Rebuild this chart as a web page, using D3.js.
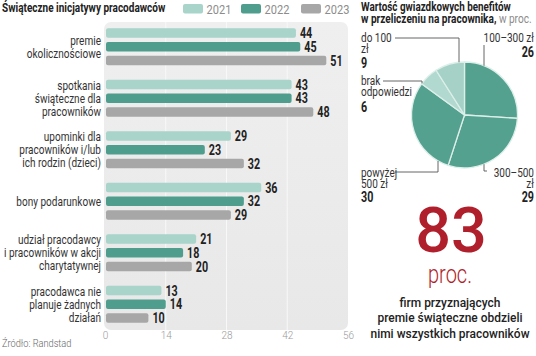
<!DOCTYPE html>
<html><head><meta charset="utf-8">
<script src="https://cdn.jsdelivr.net/npm/d3@7"></script>
<style>
body{margin:0;background:#fff;}
svg{display:block;}
text{font-family:"Roboto","Noto Sans",sans-serif;}
</style></head>
<body><svg id="c" width="536" height="356"></svg>
<script>
// ---- data ----
const categories = ["premie|okolicznościowe","spotkania|świąteczne dla|pracowników","upominki dla|pracowników i/lub|ich rodzin (dzieci)","bony podarunkowe","udział pracodawcy|i pracowników w akcji|charytatywnej","pracodawca nie|planuje żadnych|działań"];
const years = ["2021","2022","2023"];
const values2021 = [44,43,29,36,21,13];
const values2022 = [45,43,23,32,18,14];
const values2023 = [51,48,32,29,20,10];
const xTicks = [0,14,28,42,56];
const pieLabels = ["100–300 zł","300–500 zł","powyżej 500 zł","brak odpowiedzi","do 100 zł"];
const pieValues = [26,29,30,6,9];
const bigNumber = "83";

const colors = {"2021":"#a8d4ca","2022":"#4f9e8d","2023":"#a7a7a7"};
const pieColors = ["#55a190","#55a190","#55a190","#b2d9d0","#a6d1c7"];

const svg = d3.select("#c");
const series = {"2021":values2021,"2022":values2022,"2023":values2023};

function squeeze(sel, f){
  sel.each(function(){
    const L = this.getComputedTextLength();
    d3.select(this).attr("textLength", L*f).attr("lengthAdjust","spacingAndGlyphs");
  });
  return sel;
}

// ---- bar chart ----
const x = d3.scaleLinear().domain([0,56]).range([105,348]);
const y0 = d3.scaleBand().domain(categories).range([21,330]);
const y1 = d3.scaleBand().domain(years).range([0,y0.bandwidth()]).paddingInner(0.3).paddingOuter(0.53);

const grad = svg.append("defs").append("linearGradient").attr("id","bg").attr("x1",0).attr("y1",0).attr("x2",0).attr("y2",1);
grad.append("stop").attr("offset","0%").attr("stop-color","#efefef");
grad.append("stop").attr("offset","100%").attr("stop-color","#e8e8e8");
svg.append("rect").attr("x",104).attr("y",22).attr("width",244).attr("height",308).attr("rx",7).attr("fill","url(#bg)");
svg.append("g").selectAll("line").data(xTicks.slice(1,-1)).join("line")
  .attr("x1",d=>x(d)).attr("x2",d=>x(d)).attr("y1",22).attr("y2",330)
  .attr("stroke","#f8f8f8").attr("stroke-width",1);

const rows = [];
categories.forEach((c,i)=>years.forEach(yr=>rows.push({c,yr,v:series[yr][i]})));
svg.append("g").selectAll("rect").data(rows).join("rect")
  .attr("x",x(0)+1).attr("y",d=>y0(d.c)+y1(d.yr)).attr("width",d=>x(d.v)-x(0)-1)
  .attr("height",y1.bandwidth()).attr("rx",2).attr("fill",d=>colors[d.yr]);
squeeze(svg.append("g").selectAll("text").data(rows).join("text")
  .attr("x",d=>x(d.v)+4).attr("y",d=>y0(d.c)+y1(d.yr)+y1.bandwidth()/2).attr("dy","0.36em")
  .attr("font-size",14.5).attr("font-weight","bold").attr("fill","#222").text(d=>d.v), 0.74);

// category labels
const catLines = [];
categories.forEach(c=>{
  const lines = c.split("|");
  const cy = y0(c)+y0.bandwidth()/2;
  lines.forEach((l,j)=>catLines.push({t:l, y:cy+(j-(lines.length-1)/2)*13}));
});
squeeze(svg.append("g").selectAll("text").data(catLines).join("text")
  .attr("x",101).attr("y",d=>d.y).attr("dy","0.35em").attr("text-anchor","end")
  .attr("font-size",12.7).attr("fill","#333").text(d=>d.t), 0.79);

// x axis
const xAxis = d3.axisBottom(x).tickValues(xTicks).tickSize(0).tickPadding(0);
const ax = svg.append("g").attr("transform","translate(0,331)").call(xAxis);
ax.select(".domain").remove();
ax.selectAll("text").attr("font-size",10).attr("fill","#9a9a9a").attr("font-weight",300).attr("dy","0.75em")
  .style("font-family","Roboto,sans-serif");

squeeze(svg.append("text").attr("x",2).attr("y",347).attr("font-size",10.5).attr("font-weight",300).attr("fill","#666").text("Źródło: Randstad"),0.88);

// title + legend
squeeze(svg.append("text").attr("x",2).attr("y",12).attr("font-size",12.5).attr("font-weight","bold").attr("fill","#222").text("Świąteczne inicjatywy pracodawców"),0.8);
const legX = d3.scaleOrdinal().domain(years).range([183,241,301]);
const lg = svg.append("g").selectAll("g").data(years).join("g").attr("transform",d=>`translate(${legX(d)},4)`);
lg.append("rect").attr("width",20).attr("height",9.5).attr("rx",2).attr("fill",d=>colors[d]);
squeeze(lg.append("text").attr("x",23.5).attr("y",9.5).attr("font-size",13).attr("fill","#8c8c8c").text(d=>d),0.85);

// ---- pie ----
const cx = 464.5, cyP = 115, r = 53;
const pie = d3.pie().sort(null).value(d=>d)(pieValues);
const arc = d3.arc().innerRadius(0).outerRadius(r);
svg.append("g").attr("transform",`translate(${cx},${cyP})`).selectAll("path").data(pie).join("path")
  .attr("d",arc).attr("fill",(d,i)=>pieColors[i]).attr("stroke","#dcefe9").attr("stroke-width",1.3);

squeeze(svg.append("text").attr("x",361).attr("y",11).attr("font-size",12).attr("font-weight","bold").attr("fill","#222").text("Wartość gwiazdkowych benefitów"),0.82);
const t2 = svg.append("text").attr("x",361).attr("y",23).attr("font-size",12).attr("fill","#222");
t2.append("tspan").attr("font-weight","bold").text("w przeliczeniu na pracownika,");
t2.append("tspan").attr("fill","#8c8c8c").text(" w proc.");
squeeze(t2,0.84);

function edgeY(px, side){ const dx = px-cx; return cyP + side*Math.sqrt(r*r-dx*dx); }
const lineG = svg.append("g").attr("fill","none").attr("stroke","#555").attr("stroke-width",0.9);

const specs = [
  {i:4, anchor:"start", x:361, lines:["do 100","zł"], ly:[38,49], vy:63, path:[[395,38],[459,38],[459,edgeY(459,-1)]]},
  {i:0, anchor:"end", x:534, lines:["100–300 zł"], ly:[38], vy:52, path:[[484,45],[484,edgeY(484,-1)]]},
  {i:3, anchor:"start", x:361, lines:["brak","odpowiedzi"], ly:[81,92], vy:107, path:[[383,81],[422,81],[422,edgeY(422,-1)]]},
  {i:2, anchor:"start", x:361, lines:["powyżej","500 zł"], ly:[173,184], vy:197, path:[[395,172],[438,172],[438,edgeY(438,1)]]},
  {i:1, anchor:"end", x:534, lines:["300–500","zł"], ly:[173,184], vy:197, path:[[484,edgeY(484,1)],[484,171],[487,171]]}
];
specs.forEach(s=>{
  s.lines.forEach((l,j)=>squeeze(svg.append("text").attr("text-anchor",s.anchor).attr("x",s.x).attr("y",s.ly[j]).attr("dy","0.35em")
    .attr("font-size",12.5).attr("fill","#333").text(l),0.8));
  squeeze(svg.append("text").attr("text-anchor",s.anchor).attr("x",s.x).attr("y",s.vy).attr("dy","0.36em")
    .attr("font-size",14.5).attr("font-weight","bold").attr("fill","#222").text(pieValues[s.i]),0.74);
  lineG.append("path").attr("d",d3.line()(s.path));
});

// ---- big number ----
svg.append("text").attr("x",451).attr("y",252).attr("text-anchor","middle").attr("font-size",63).attr("font-weight",500).attr("fill","#b01f2c")
  .text(bigNumber);
squeeze(svg.append("text").attr("x",450).attr("y",283).attr("text-anchor","middle").attr("font-size",25).attr("font-weight",300).attr("fill","#b01f2c").text("proc."),0.8);
const cap = ["firm przyznających","premie świąteczne obdzieli","nimi wszystkich pracowników"];
squeeze(svg.append("g").selectAll("text").data(cap).join("text")
  .attr("x",450).attr("y",(d,i)=>302+i*15.5).attr("dy","0.35em").attr("text-anchor","middle")
  .attr("font-size",13).attr("font-weight",500).attr("fill","#222").text(d=>d),0.92);
</script></body></html>
